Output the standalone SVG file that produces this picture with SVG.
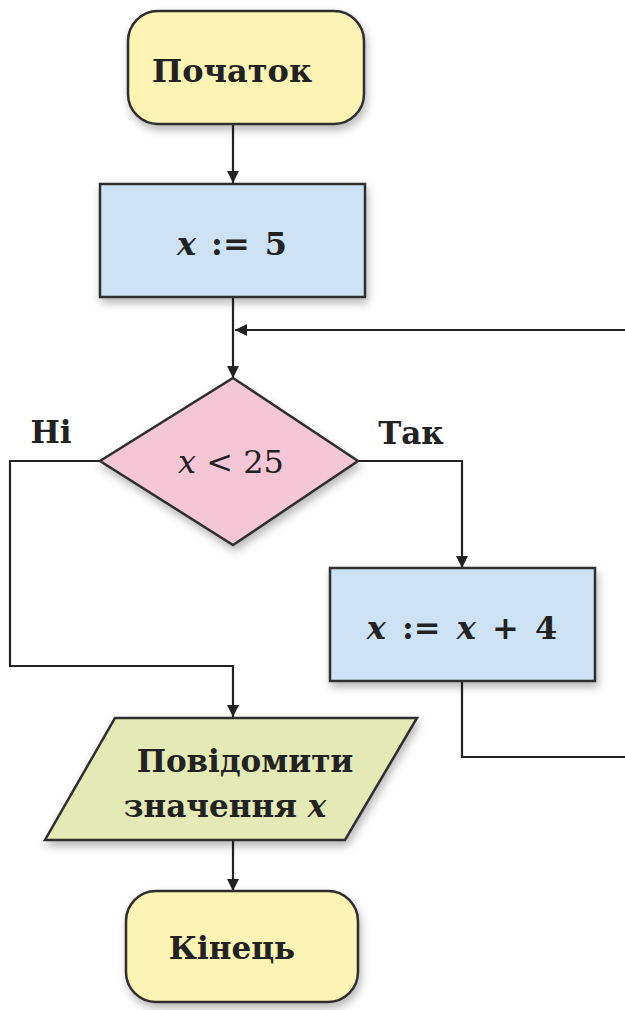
<svg xmlns="http://www.w3.org/2000/svg" width="625" height="1010" viewBox="0 0 625 1010">
<style>
.shape{stroke:#2e2e2e;stroke-width:2.5;filter:url(#sh)}
.term{fill:#fcf4b4}
.proc{fill:#cde3f5}
.dec{fill:#f5c7d6}
.io{fill:#e4eab6}
.t{font-family:"DejaVu Serif","Liberation Serif",serif;font-weight:bold;fill:#222;text-anchor:middle}
.n{font-weight:normal}
.m{font-style:italic}
.c{fill:none;stroke:#222;stroke-width:2.2}
</style>
<defs>
<filter id="sh" x="-20%" y="-20%" width="140%" height="150%">
<feDropShadow dx="2" dy="5" stdDeviation="4" flood-color="#000" flood-opacity="0.28"/>
</filter>
<marker id="ah" viewBox="0 0 12 14" refX="12" refY="7" markerWidth="12" markerHeight="14" markerUnits="userSpaceOnUse" orient="auto">
<path d="M0,1 L12,7 L0,13 Z" fill="#222"/>
</marker>
</defs>
<g id="connectors">
<path class="c" d="M233,125 V183" marker-end="url(#ah)"/>
<path class="c" d="M233,297 V378" marker-end="url(#ah)"/>
<path class="c" d="M628,330 H235" marker-end="url(#ah)"/>
<path class="c" d="M100,461 H10 V666 H233 V717" marker-end="url(#ah)"/>
<path class="c" d="M358,461 H462 V568" marker-end="url(#ah)"/>
<path class="c" d="M462,681 V757 H628"/>
<path class="c" d="M233,840 V891" marker-end="url(#ah)"/>
</g>
<g id="start">
<rect class="shape term" x="128" y="11" width="236" height="113" rx="30"/>
<text class="t" x="232" y="82" font-size="32">Початок</text>
</g>
<g id="assign1">
<rect class="shape proc" x="100" y="184" width="265" height="113"/>
<text class="t" x="232" y="255" font-size="32" word-spacing="4"><tspan class="m">x</tspan> := 5</text>
</g>
<g id="decision">
<polygon class="shape dec" points="233,378 358,461 233,545 100,461"/>
<text class="t n" x="231" y="473" font-size="32"><tspan class="m">x</tspan> &lt; 25</text>
</g>
<text class="t" x="51" y="443" font-size="31">Ні</text>
<text class="t" x="411" y="444" font-size="31">Так</text>
<g id="assign2">
<rect class="shape proc" x="330" y="568" width="265" height="113"/>
<text class="t" x="462" y="639" font-size="32" word-spacing="5"><tspan class="m">x</tspan> := <tspan class="m">x</tspan> + 4</text>
</g>
<g id="output">
<polygon class="shape io" points="115,718 417,718 345,840 45,840"/>
<text class="t" x="245" y="772" font-size="31">Повідомити</text>
<text class="t" x="225" y="817" font-size="31">значення <tspan class="m">x</tspan></text>
</g>
<g id="end">
<rect class="shape term" x="126" y="891" width="232" height="111" rx="30"/>
<text class="t" x="232" y="959" font-size="31">Кінець</text>
</g>
</svg>
